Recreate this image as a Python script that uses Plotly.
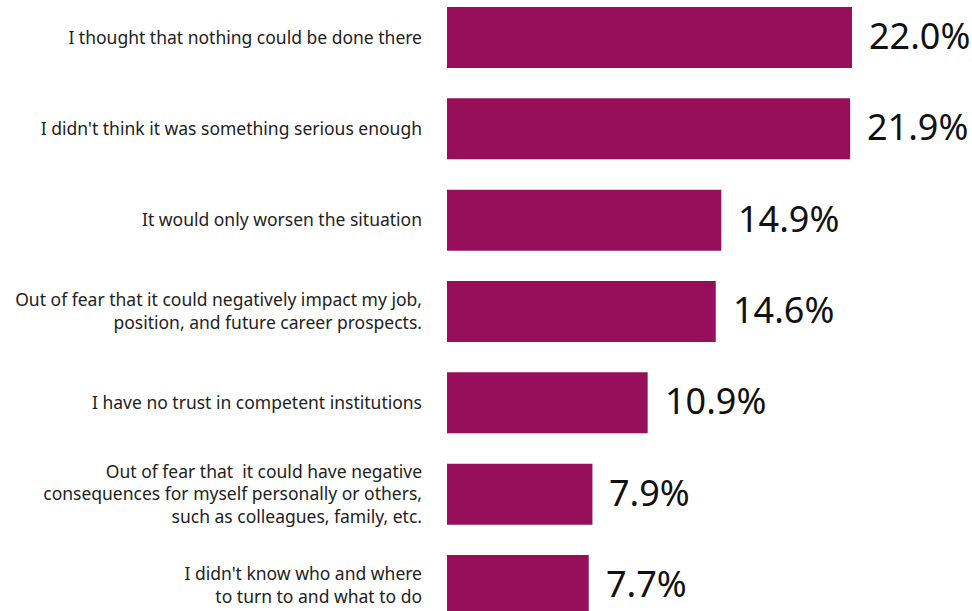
import plotly.graph_objects as go

categories = [
    "I thought that nothing could be done there",
    "I didn't think it was something serious enough",
    "It would only worsen the situation",
    "Out of fear that it could negatively impact my job,<br>position, and future career prospects.",
    "I have no trust in competent institutions",
    "Out of fear that  it could have negative<br>consequences for myself personally or others,<br>such as colleagues, family, etc.",
    "I didn't know who and where<br>to turn to and what to do",
]
values = [22.0, 21.9, 14.9, 14.6, 10.9, 7.9, 7.7]
value_labels = [f"{v:.1f}%" for v in values]

bar_color = "#970F5A"

fig = go.Figure(
    go.Bar(
        x=values,
        y=categories,
        orientation="h",
        marker=dict(color=bar_color, line=dict(width=0)),
        width=0.668,
        hoverinfo="skip",
    )
)

for cat, v, lab in zip(categories, values, value_labels):
    fig.add_annotation(
        x=v, y=cat, text=lab, showarrow=False,
        xanchor="left", yanchor="middle", xshift=15, yshift=2,
        font=dict(family="Noto Sans", size=36, color="#111111"),
    )

fig.update_layout(
    width=972, height=611,
    margin=dict(l=447, r=0, t=0, b=0),
    paper_bgcolor="white", plot_bgcolor="white",
    showlegend=False,
    xaxis=dict(range=[0, 28.52], visible=False, fixedrange=True),
    yaxis=dict(
        type="category",
        range=[6.279, -0.4106],
        showgrid=False, zeroline=False, showline=False,
        ticks="", ticklabelstandoff=24,
        tickfont=dict(family="Noto Sans", size=17.5, color="#222222"),
    ),
)

fig.write_html("out.html")
